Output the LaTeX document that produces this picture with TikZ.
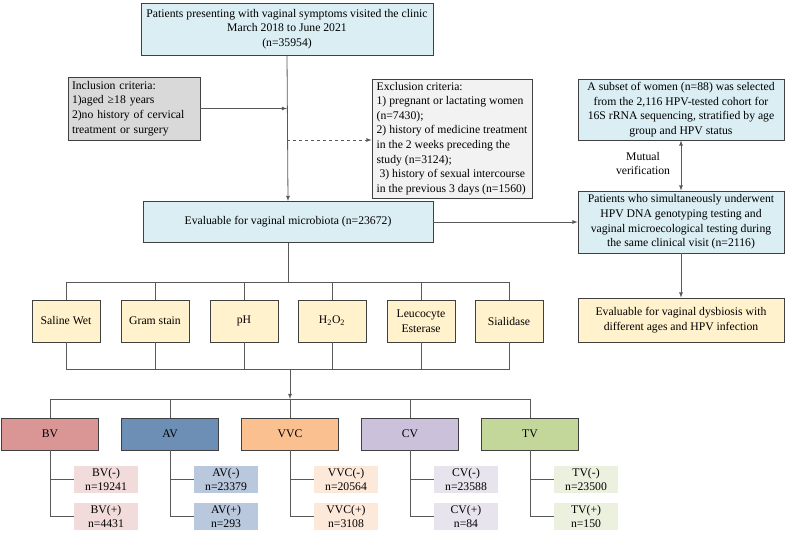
\documentclass[tikz,border=0pt]{standalone}
\usepackage{fontspec}
\setmainfont{Liberation Serif}
\usetikzlibrary{positioning,shapes,arrows}

\definecolor{boxline}{HTML}{404040}
\definecolor{linegray}{HTML}{595959}
\definecolor{paleblue}{HTML}{DAEEF3}
\definecolor{incgray}{HTML}{D9D9D9}
\definecolor{excgray}{HTML}{F2F2F2}
\definecolor{paleyellow}{HTML}{FFF2CC}
\definecolor{bvred}{HTML}{D99694}
\definecolor{bvsub}{HTML}{F2DCDB}
\definecolor{avblue}{HTML}{6D8FB5}
\definecolor{avsub}{HTML}{B9C8DC}
\definecolor{vvcorange}{HTML}{FAC090}
\definecolor{vvcsub}{HTML}{FDE9D9}
\definecolor{cvpurple}{HTML}{CCC1DA}
\definecolor{cvsub}{HTML}{E8E4EE}
\definecolor{tvgreen}{HTML}{C4D79B}
\definecolor{tvsub}{HTML}{EBF1DE}

\begin{document}
\begin{tikzpicture}[x=1pt,y=-1pt,>=latex,
  txt/.style={font=\fontsize{11.7}{14.6}\selectfont},
  box/.style={txt, draw=boxline, line width=0.8pt, align=center, inner sep=3pt},
  bluebox/.style={box, fill=paleblue},
  testbox/.style={box, fill=paleyellow, minimum width=68, minimum height=42},
  catbox/.style={box, minimum width=97, minimum height=32},
  subbox/.style={txt, align=center, inner sep=1pt, minimum width=64, minimum height=27,
    font=\fontsize{11.7}{13.5}\selectfont},
  link/.style={draw=linegray, line width=0.8pt}]
\useasboundingbox (0,0) rectangle (787,533);

% screening
\node[bluebox, minimum width=292, minimum height=52] (top) at (287,29)
  {Patients presenting with vaginal symptoms visited the clinic\\March 2018 to June 2021\\(n=35954)};
\node[box, fill=incgray, align=left, inner sep=4pt, text width=124, minimum height=63] (incl) at (134,108.5)
  {Inclusion criteria:\\1)aged ≥18 years\\2)no history of cervical\\treatment or surgery};
\node[box, fill=excgray, align=left, minimum width=160, minimum height=119] (excl) at (452,138.5)
  {Exclusion criteria:\\1) pregnant or lactating women\\(n=7430);\\2) history of medicine treatment\\in the 2 weeks preceding the\\study (n=3124);\\\ 3) history of sexual intercourse\\in the previous 3 days (n=1560)};
\node[bluebox, minimum width=290, minimum height=41] (eval) at (288,222)
  {Evaluable for vaginal microbiota (n=23672)};

% HPV branch
\node[bluebox, minimum width=206, minimum height=61] (subset) at (681,109.5)
  {A subset of women (n=88) was selected\\from the 2,116 HPV-tested cohort for\\16S rRNA sequencing, stratified by age\\group and HPV status};
\node[bluebox, minimum width=206, minimum height=62] (hpv) at (681,222)
  {Patients who simultaneously underwent\\HPV DNA genotyping testing and\\vaginal microecological testing during\\the same clinical visit (n=2116)};
\node[box, fill=paleyellow, minimum width=206, minimum height=44] (dysb) at (681,320)
  {Evaluable for vaginal dysbiosis with\\different ages and HPV infection};
\node[txt, align=center] (mutual) at (643,163.5) {Mutual\\verification};

% tests
\node[testbox] (saline) at (66,321) {Saline Wet};
\node[testbox] (gram) at (155,321) {Gram stain};
\node[testbox] (ph) at (244,321) {pH};
\node[testbox] (hoo) at (332,321) {H\textsubscript{2}O\textsubscript{2}};
\node[testbox] (leuco) at (421,321) {Leucocyte\\Esterase};
\node[testbox] (sial) at (509,321) {Sialidase};

% categories
\node[catbox, fill=bvred] (bv) at (50,434) {BV};
\node[catbox, fill=avblue] (av) at (170,434) {AV};
\node[catbox, fill=vvcorange] (vvc) at (290,434) {VVC};
\node[catbox, fill=cvpurple] (cv) at (410,434) {CV};
\node[catbox, fill=tvgreen] (tv) at (530,434) {TV};

\node[subbox, fill=bvsub] (bvneg) at (106,479.5) {BV(-)\\n=19241};
\node[subbox, fill=bvsub] (bvpos) at (106,516.5) {BV(+)\\n=4431};
\node[subbox, fill=avsub] (avneg) at (226,479.5) {AV(-)\\n=23379};
\node[subbox, fill=avsub] (avpos) at (226,516.5) {AV(+)\\n=293};
\node[subbox, fill=vvcsub] (vvcneg) at (346,479.5) {VVC(-)\\n=20564};
\node[subbox, fill=vvcsub] (vvcpos) at (346,516.5) {VVC(+)\\n=3108};
\node[subbox, fill=cvsub] (cvneg) at (466,479.5) {CV(-)\\n=23588};
\node[subbox, fill=cvsub] (cvpos) at (466,516.5) {CV(+)\\n=84};
\node[subbox, fill=tvsub] (tvneg) at (586,479.5) {TV(-)\\n=23500};
\node[subbox, fill=tvsub] (tvpos) at (586,516.5) {TV(+)\\n=150};

\coordinate (bus1) at (288,282);
\coordinate (bus2) at (290,369);
\coordinate (bus3) at (290,399);

% arrows
\draw[link,->] (top.south) -- (eval.north);
\draw[link,->] (incl.east) -- (incl.east -| top.south);
\draw[link,dashed,->] (top.south |- 0,140) -- (excl.west |- 0,140);
\draw[link,->] (eval.east) -- (hpv.west);
\draw[link,<->] (subset.south) -- (hpv.north);
\draw[link,->] (hpv.south) -- (dysb.north);

\draw[link] (eval.south) -- (bus1);
\draw[link] (saline.north) |- (bus1);
\draw[link] (sial.north) |- (bus1);
\draw[link] (gram.north) -- (gram.north |- bus1);
\draw[link] (ph.north) -- (ph.north |- bus1);
\draw[link] (hoo.north) -- (hoo.north |- bus1);
\draw[link] (leuco.north) -- (leuco.north |- bus1);

\draw[link] (saline.south) |- (sial.south |- bus2) -- (sial.south);
\draw[link] (gram.south) -- (gram.south |- bus2);
\draw[link] (ph.south) -- (ph.south |- bus2);
\draw[link] (hoo.south) -- (hoo.south |- bus2);
\draw[link] (leuco.south) -- (leuco.south |- bus2);
\draw[link,->] (bus2) -- (bus3);

\draw[link] (bv.north) |- (tv.north |- bus3) -- (tv.north);
\draw[link] (av.north) -- (av.north |- bus3);
\draw[link] (vvc.north) -- (bus3);
\draw[link] (cv.north) -- (cv.north |- bus3);

\draw[link] (bv.south) |- (bvpos.west);
\draw[link] (bv.south |- bvneg.west) -- (bvneg.west);
\draw[link] (av.south) |- (avpos.west);
\draw[link] (av.south |- avneg.west) -- (avneg.west);
\draw[link] (vvc.south) |- (vvcpos.west);
\draw[link] (vvc.south |- vvcneg.west) -- (vvcneg.west);
\draw[link] (cv.south) |- (cvpos.west);
\draw[link] (cv.south |- cvneg.west) -- (cvneg.west);
\draw[link] (tv.south) |- (tvpos.west);
\draw[link] (tv.south |- tvneg.west) -- (tvneg.west);
\end{tikzpicture}
\end{document}
